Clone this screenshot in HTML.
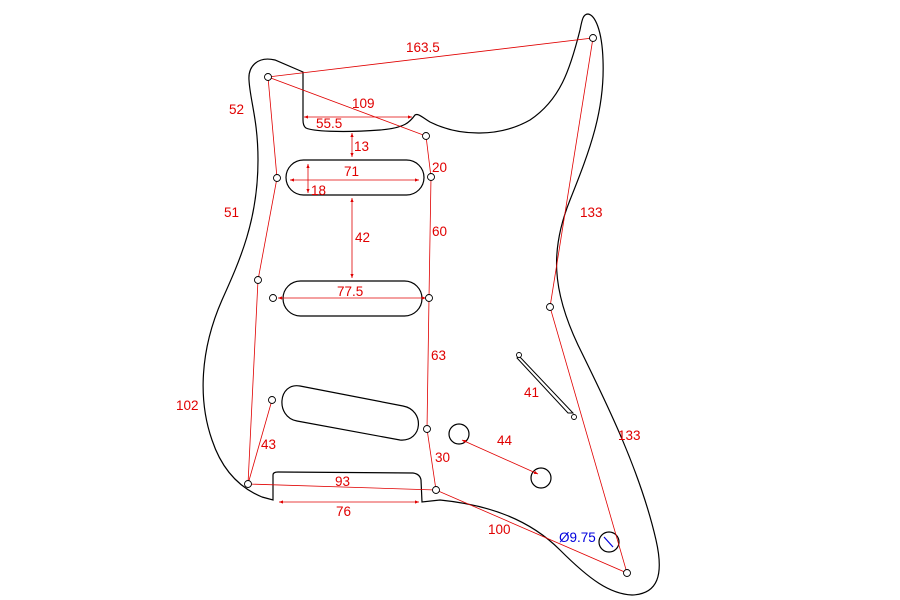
<!DOCTYPE html>
<html><head><style>body{margin:0;background:#fff}svg{display:block}text{font-family:"Liberation Sans",sans-serif;font-size:13.5px;fill:#e00000}</style></head>
<body>
<svg width="900" height="600" viewBox="0 0 900 600">
<defs><marker id="a" markerWidth="6" markerHeight="6" refX="5" refY="3" orient="auto-start-reverse"><path d="M0,1 L5,3 L0,5 Z" fill="#e00000"/></marker></defs>
<g fill="none" stroke="#000" stroke-width="1.2">
<path d="M303,72 L275,60 C258,56 248,66 249,80 C250,100 258,120 258,160 C258,220 240,260 222,300 C200,350 198,400 212,440 C222,470 240,488 262,497 L273,500 L273,475 Q273,472 278,472 L413,473 Q420,474 421,480 L422,502 L440,500 C490,505 530,520 560,550 C590,580 610,594 632,595 C658,594 664,575 656,540 C640,470 605,400 578,345 C552,290 550,250 570,200 C590,150 605,110 603,60 C602,30 595,15 588,14 C583,14 582,20 580,30 C570,70 560,100 530,120 C500,137 460,137 430,122 C422,117 418,113 415,115 C410,122 405,128 380,130 C340,133 312,131 306,128 Q303,126 303,120 Z"/>
<rect x="286" y="160" width="138" height="35" rx="17.5"/>
<rect x="283" y="281" width="139" height="35" rx="17.5"/>
<path d="M300,386 L403,406 C425,410 423,442 400,440 L297,421 C275,417 278,382 300,386 Z"/>
<circle cx="459" cy="434" r="10"/>
<circle cx="541" cy="478" r="10"/>
<circle cx="609" cy="542" r="10"/>
<path d="M519,356 L573,413 L568,413 L517,358 Z" stroke-width="1"/>
</g>
<g fill="none" stroke="#e00000" stroke-width="0.8">
<path d="M268,77 L593,38 L550,307 L627,573 L436,490 L248,484 L258,280 L277,178 L268,77 L426,136 L431,177 L429,298 L427,429 L436,490"/>
<path d="M248,484 L272,400"/>
<path marker-start="url(#a)" marker-end="url(#a)" d="M304,117 L412,117"/>
<path marker-start="url(#a)" marker-end="url(#a)" d="M352,133 L352,157"/>
<path marker-start="url(#a)" marker-end="url(#a)" d="M290,180 L419,180"/>
<path marker-start="url(#a)" marker-end="url(#a)" d="M308,164 L308,193"/>
<path marker-start="url(#a)" marker-end="url(#a)" d="M352,198 L352,278"/>
<path marker-start="url(#a)" marker-end="url(#a)" d="M278,298 L426,298"/>
<path marker-start="url(#a)" marker-end="url(#a)" d="M279,502 L419,502"/>
<path marker-start="url(#a)" marker-end="url(#a)" d="M462,440 L538,474"/>
</g>
<g fill="#fff" stroke="#000" stroke-width="0.9">
<circle cx="268" cy="77" r="3.5"/><circle cx="593" cy="38" r="3.5"/><circle cx="426" cy="136" r="3.5"/><circle cx="431" cy="177" r="3.5"/><circle cx="277" cy="178" r="3.5"/><circle cx="258" cy="280" r="3.5"/><circle cx="273" cy="298" r="3.5"/><circle cx="429" cy="298" r="3.5"/><circle cx="550" cy="307" r="3.5"/><circle cx="272" cy="400" r="3.5"/><circle cx="427" cy="429" r="3.5"/><circle cx="248" cy="484" r="3.5"/><circle cx="436" cy="490" r="3.5"/><circle cx="627" cy="573" r="3.5"/><circle cx="519" cy="355" r="2.5"/><circle cx="574" cy="417" r="2.5"/>
</g>
<path d="M604,537 L613,547" stroke="#0000dd" stroke-width="1.2"/>
<text x="406" y="52">163.5</text><text x="229" y="114">52</text><text x="352" y="108">109</text>
<text x="316" y="128">55.5</text><text x="354" y="151">13</text><text x="344" y="176">71</text>
<text x="311" y="195">18</text><text x="432" y="172">20</text><text x="224" y="217">51</text>
<text x="355" y="242">42</text><text x="432" y="236">60</text><text x="580" y="217">133</text>
<text x="337" y="296">77.5</text><text x="431" y="360">63</text><text x="524" y="397">41</text>
<text x="176" y="410">102</text><text x="497" y="445">44</text><text x="618" y="440">133</text>
<text x="261" y="449">43</text><text x="435" y="462">30</text><text x="335" y="486">93</text>
<text x="336" y="516">76</text><text x="488" y="534">100</text>
<text x="559" y="542" style="fill:#0000dd">Ø9.75</text>
</svg>
</body></html>
